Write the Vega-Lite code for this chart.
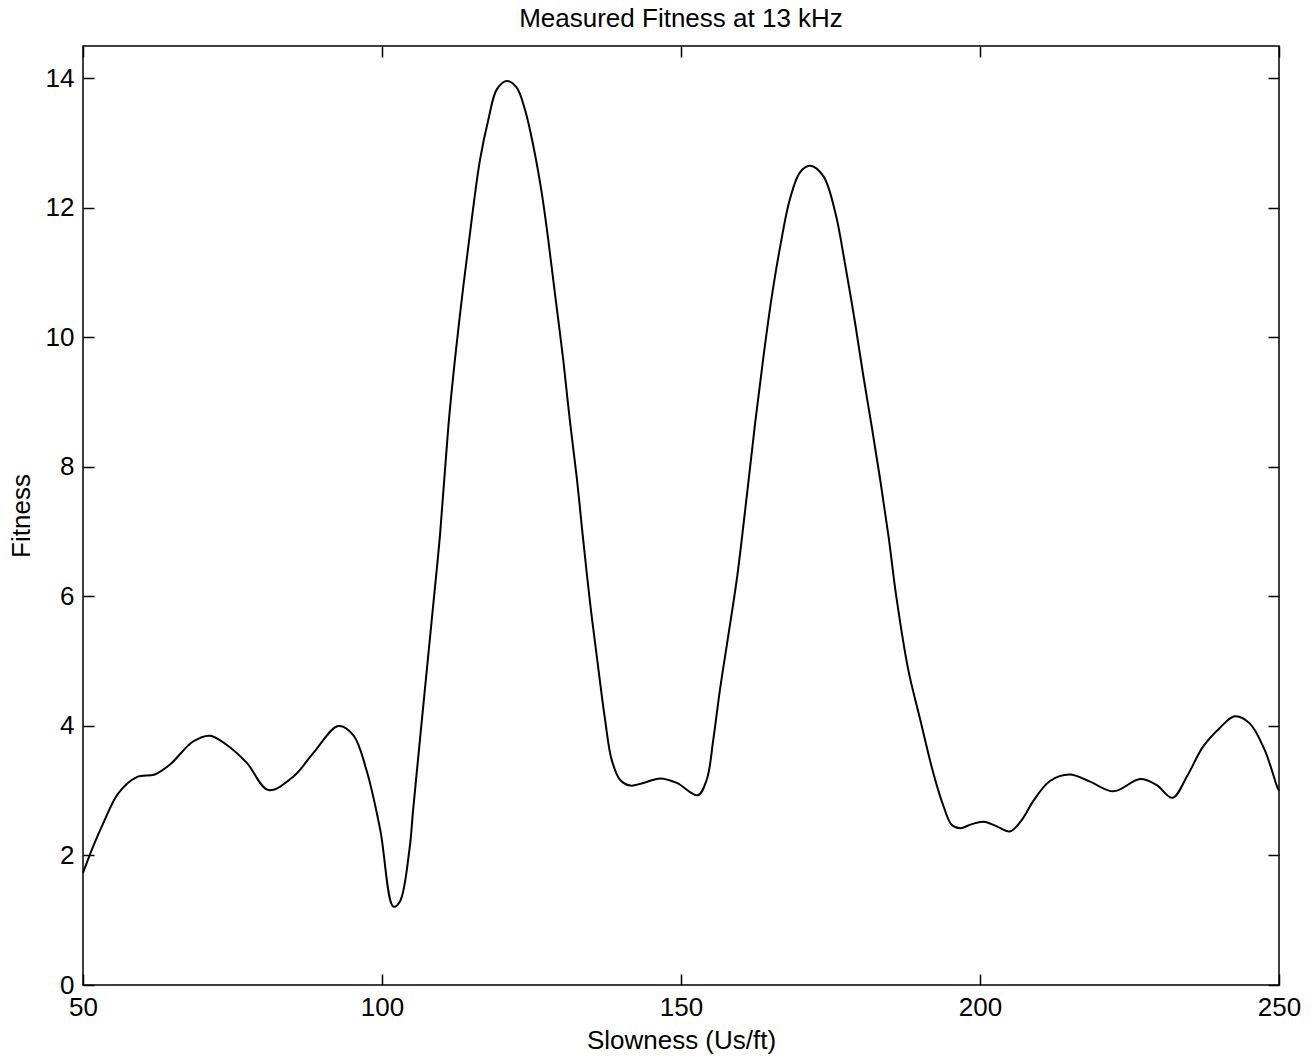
{
  "$schema": "https://vega.github.io/schema/vega-lite/v6.json",
  "autosize": "none",
  "width": 1196,
  "height": 939,
  "padding": {"left": 83, "top": 46, "right": 37, "bottom": 76},
  "background": "white",
  "config": {
    "font": "Liberation Sans",
    "view": {"stroke": "black", "strokeWidth": 1.5},
    "axis": {"grid": false, "domain": false, "tickColor": "black", "tickWidth": 1.5, "tickSize": -11, "labelColor": "black", "labelFont": "Liberation Sans", "labelFontSize": 26, "labelFlush": false, "labelOverlap": false, "titleFont": "Liberation Sans", "titleFontSize": 26, "titleFontWeight": "normal", "titleColor": "black"}
  },
  "title": {"text": "Measured Fitness at 13 kHz", "font": "Liberation Sans", "fontSize": 26, "fontWeight": "normal", "color": "black", "offset": 13},
  "data": {"values": [
    {"s": 50, "f": 1.73}, {"s": 51.7, "f": 2.14}, {"s": 53.4, "f": 2.5}, {"s": 55.9, "f": 2.96}, {"s": 59.0, "f": 3.21},
    {"s": 62.0, "f": 3.25}, {"s": 64.5, "f": 3.4}, {"s": 68.4, "f": 3.76}, {"s": 71.2, "f": 3.85}, {"s": 74.0, "f": 3.71},
    {"s": 77.4, "f": 3.43}, {"s": 81.0, "f": 3.01}, {"s": 85.2, "f": 3.22}, {"s": 88.5, "f": 3.58}, {"s": 92.7, "f": 4.0},
    {"s": 95.2, "f": 3.86}, {"s": 97.4, "f": 3.32}, {"s": 99.7, "f": 2.4}, {"s": 101.9, "f": 1.21}, {"s": 103.0, "f": 1.29},
    {"s": 104.6, "f": 2.1}, {"s": 105.2, "f": 2.7}, {"s": 106.4, "f": 3.84}, {"s": 107.5, "f": 4.87}, {"s": 108.6, "f": 5.9},
    {"s": 109.7, "f": 6.95}, {"s": 111.1, "f": 8.63}, {"s": 112.2, "f": 9.66}, {"s": 113.6, "f": 10.79}, {"s": 115.0, "f": 11.82},
    {"s": 116.4, "f": 12.75}, {"s": 117.8, "f": 13.37}, {"s": 119.2, "f": 13.83}, {"s": 120.85, "f": 13.96}, {"s": 122.5, "f": 13.86},
    {"s": 123.9, "f": 13.52}, {"s": 125.3, "f": 12.96}, {"s": 126.7, "f": 12.24}, {"s": 127.8, "f": 11.51}, {"s": 128.9, "f": 10.69},
    {"s": 130.3, "f": 9.66}, {"s": 131.4, "f": 8.73}, {"s": 132.6, "f": 7.81}, {"s": 133.5, "f": 7.0}, {"s": 134.8, "f": 5.9},
    {"s": 136.2, "f": 4.87}, {"s": 137.3, "f": 4.1}, {"s": 138.4, "f": 3.48}, {"s": 139.8, "f": 3.17}, {"s": 141.5, "f": 3.08},
    {"s": 143.7, "f": 3.12}, {"s": 146.5, "f": 3.19}, {"s": 149.3, "f": 3.12}, {"s": 152.8, "f": 2.93}, {"s": 154.3, "f": 3.17},
    {"s": 155.4, "f": 3.79}, {"s": 156.5, "f": 4.55}, {"s": 158.0, "f": 5.45}, {"s": 159.4, "f": 6.31}, {"s": 161.0, "f": 7.55},
    {"s": 162.4, "f": 8.68}, {"s": 163.8, "f": 9.71}, {"s": 165.2, "f": 10.64}, {"s": 166.6, "f": 11.41}, {"s": 168.2, "f": 12.13},
    {"s": 169.9, "f": 12.55}, {"s": 171.6, "f": 12.65}, {"s": 173.8, "f": 12.49}, {"s": 175.8, "f": 11.93}, {"s": 177.4, "f": 11.15},
    {"s": 179.1, "f": 10.23}, {"s": 180.5, "f": 9.4}, {"s": 181.9, "f": 8.62}, {"s": 183.3, "f": 7.81}, {"s": 184.7, "f": 6.93},
    {"s": 186.0, "f": 6.0}, {"s": 188.0, "f": 4.87}, {"s": 190.0, "f": 4.1}, {"s": 192.2, "f": 3.27}, {"s": 193.9, "f": 2.76},
    {"s": 195.3, "f": 2.47}, {"s": 196.7, "f": 2.42}, {"s": 198.5, "f": 2.48}, {"s": 200.6, "f": 2.52}, {"s": 202.8, "f": 2.45},
    {"s": 205.0, "f": 2.37}, {"s": 207.0, "f": 2.55}, {"s": 208.9, "f": 2.84}, {"s": 211.7, "f": 3.15}, {"s": 215.0, "f": 3.25},
    {"s": 218.4, "f": 3.14}, {"s": 222.3, "f": 2.99}, {"s": 226.8, "f": 3.18}, {"s": 229.5, "f": 3.09}, {"s": 232.2, "f": 2.89},
    {"s": 234.6, "f": 3.22}, {"s": 237.3, "f": 3.68}, {"s": 240.1, "f": 3.97}, {"s": 242.6, "f": 4.15}, {"s": 245.1, "f": 4.04},
    {"s": 247.6, "f": 3.63}, {"s": 249.7, "f": 3.06}, {"s": 250, "f": 3.0}
  ]},
  "layer": [
    {
      "mark": {"type": "line", "color": "black", "strokeWidth": 2, "interpolate": "catmull-rom"},
      "encoding": {
        "x": {"field": "s", "type": "quantitative", "scale": {"domain": [50, 250], "nice": false, "zero": false},
              "axis": {"orient": "bottom", "title": "Slowness (Us/ft)", "values": [50, 100, 150, 200, 250], "labelPadding": 20, "titlePadding": 7}},
        "y": {"field": "f", "type": "quantitative", "scale": {"domain": [0, 14.5], "nice": false},
              "axis": {"orient": "left", "title": "Fitness", "values": [0, 2, 4, 6, 8, 10, 12, 14], "labelPadding": 20, "titlePadding": 11}}
      }
    },
    {
      "mark": {"type": "line", "opacity": 0},
      "encoding": {
        "x": {"field": "s", "type": "quantitative", "scale": {"domain": [50, 250], "nice": false, "zero": false},
              "axis": {"orient": "top", "title": null, "labels": false, "values": [50, 100, 150, 200, 250]}},
        "y": {"field": "f", "type": "quantitative", "scale": {"domain": [0, 14.5], "nice": false},
              "axis": {"orient": "right", "title": null, "labels": false, "values": [0, 2, 4, 6, 8, 10, 12, 14]}}
      }
    }
  ],
  "resolve": {"axis": {"x": "independent", "y": "independent"}}
}
